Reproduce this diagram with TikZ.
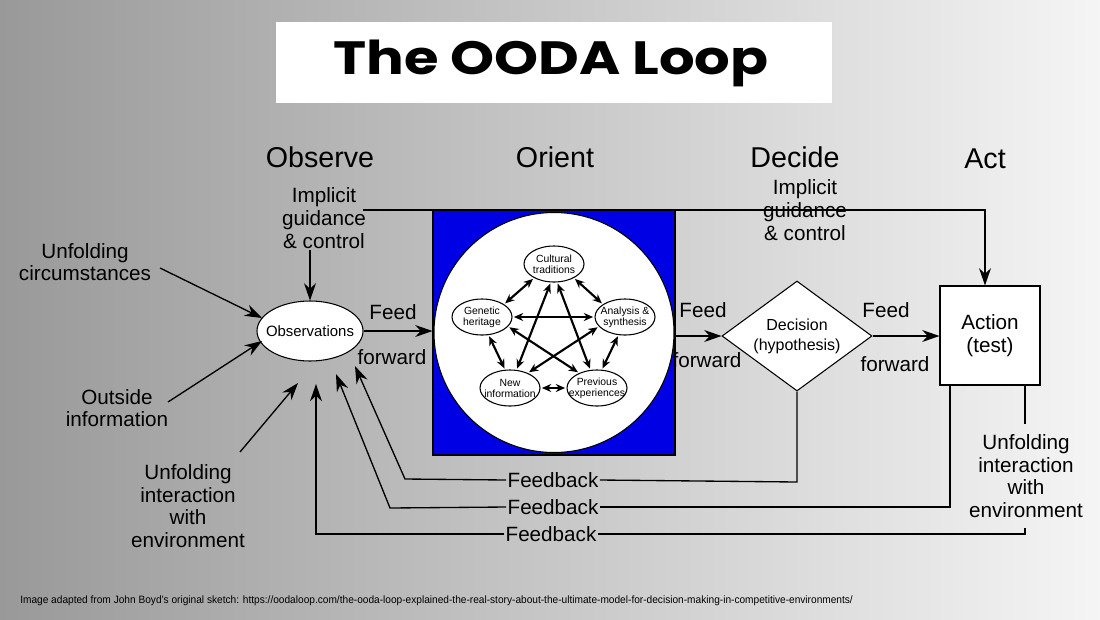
\documentclass[tikz,border=0pt]{standalone}
\usepackage{fontspec}
\setmainfont{Liberation Sans}
\newfontfamily\titlefont{Poppins}
\usetikzlibrary{arrows.meta,shapes.geometric}
\begin{document}
\begin{tikzpicture}[x=0.75pt,y=-0.75pt,
  lbl/.style={font=\fontsize{15.5}{17}\selectfont,align=center,inner sep=1pt},
  hdr/.style={font=\fontsize{21.5}{24}\selectfont},
  arr/.style={line width=1pt,-{Stealth[length=13pt,width=9pt]}},
  ln/.style={line width=1pt},
  inner/.style={ellipse,draw,line width=0.8pt,fill=white,minimum width=60*0.75pt,minimum height=36*0.75pt,inner sep=0pt},
  itxt/.style={align=center,font=\fontsize{7.8}{8.3}\selectfont,inner sep=0pt},
  darr/.style={line width=1.6pt,{Stealth[length=7pt,width=6pt]}-{Stealth[length=7pt,width=6pt]},shorten <=1pt,shorten >=1pt}]
\shade[left color=black!40,right color=black!4] (0,0) rectangle (1100,619);
\useasboundingbox (0,0) rectangle (1100,619);
\node[fill=white,minimum width=556*0.75pt,minimum height=81*0.75pt] (tb) at (554,62) {};
\node[font=\titlefont\fontsize{35}{40}\selectfont\bfseries] (title) at (551,63) {\scalebox{1.2}[1]{The OODA Loop}};
% headers
\node[hdr] (hobs) at (320,157) {Observe};
\node[hdr] (hori) at (555,157) {Orient};
\node[hdr] (hdec) at (795,157) {Decide};
\node[hdr] (hact) at (985,159) {Act};
\node[lbl] (ig1) at (324,218) {Implicit\\guidance\\\& control};
\node[lbl] (ig2) at (805,210) {Implicit\\guidance\\\& control};
% orient box
\node[draw,fill=blue!90!black,line width=0.8pt,minimum width=242*0.75pt,minimum height=245*0.75pt,inner sep=0pt] (blue) at (554,332.5) {};
\node[circle,fill=white,draw,line width=0.8pt,minimum size=240*0.75pt,inner sep=0pt] (circ) at (554,332.5) {};
\node[inner] (cul) at (554,264) {};
\node[inner] (gen) at (482,317) {};
\node[inner] (ana) at (625,317) {};
\node[inner] (new) at (510,388) {};
\node[inner] (pre) at (597,388) {};
\node[itxt] (tcul) at (cul) {Cultural\\traditions};
\node[itxt] (tgen) at (gen) {Genetic\\heritage};
\node[itxt] (tana) at (ana) {Analysis \&\\synthesis};
\node[itxt] (tnew) at (new) {New\\information};
\node[itxt] (tpre) at (pre) {Previous\\experiences};
\draw[darr] (cul.-145) -- (gen.30);
\draw[darr] (cul.-35) -- (ana.150);
\draw[darr] (gen.east) -- (ana.west);
\draw[darr] (gen.-70) -- (new.105);
\draw[darr] (ana.-110) -- (pre.75);
\draw[darr] (new.east) -- (pre.west);
\draw[darr] (cul.-100) -- (new.70);
\draw[darr] (cul.-80) -- (pre.110);
\draw[darr] (gen.-20) -- (pre.140);
\draw[darr] (ana.-160) -- (new.40);
% main nodes
\node[ellipse,draw,fill=white,line width=0.8pt,minimum width=106*0.75pt,minimum height=60*0.75pt,inner sep=0pt] (obs) at (310,331) {};
\node[font=\fontsize{11.2}{14}\selectfont,inner sep=0pt] (tobs) at (obs) {Observations};
\node[diamond,draw,fill=white,line width=0.8pt,minimum width=150*0.75pt,minimum height=110*0.75pt,inner sep=0pt,align=center,font=\fontsize{12}{15}\selectfont,aspect=1.36] (dec) at (797,336) {Decision\\(hypothesis)};
\node[draw,fill=white,line width=0.8pt,minimum width=100*0.75pt,minimum height=99*0.75pt,align=center,font=\fontsize{15.5}{17}\selectfont] (act) at (990,335.5) {Action\\(test)};
% feed forward
\node[lbl] (ff1a) at (393,312) {Feed};
\node[lbl] (ff1b) at (392,357) {forward};
\node[lbl] (ff2a) at (703,310) {Feed};
\node[lbl] (ff2b) at (707,360) {forward};
\node[lbl] (ff3a) at (886,310) {Feed};
\node[lbl] (ff3b) at (895,364) {forward};
\draw[arr] (obs.east) -- (obs.east -| blue.west);
\draw[arr] (675,336) coordinate (bo) -- (dec.west);
\draw[arr] (dec.east) -- (act.west |- dec.east);
% implicit guidance
\coordinate (igs) at (363,210);
\coordinate (igc) at (985,210);
\draw[arr] (igs) -- (igc) -- (igc |- act.north);
\draw[arr] (ig1.south -| obs.north) -- (obs.north);
% left inputs
\node[lbl] (uc) at (85,262) {Unfolding\\circumstances};
\node[lbl] (oi) at (117,408) {Outside\\information};
\node[lbl] (ui) at (188,506) {Unfolding\\interaction\\with\\environment};
\coordinate (oa) at (262,318);
\coordinate (ob) at (262,341);
\coordinate (oc) at (298,383);
\draw[arr] (160,268) -- (oa);
\draw[arr] (168,402) -- (ob);
\draw[arr] (240,452) -- (oc);
% feedback
\node[lbl] (fb1) at (553,480) {Feedback};
\node[lbl] (fb2) at (553,507) {Feedback};
\node[lbl] (fb3) at (551,534) {Feedback};
\node[lbl] (uir) at (1026,476) {Unfolding\\interaction\\with\\environment};
\draw[ln] (dec.south) -- (797,482) -- (fb1.east);
\draw[arr] (fb1.west) -- (405,479) -- (355,366);
\draw[ln] (act.south -| 950,0) -- (950,507) -- (fb2.east);
\draw[arr] (fb2.west) -- (390,508) -- (336,374);
\draw[ln] (act.south -| 1025,0) -- (1025,424) (1025,528) -- (1025,534) -- (fb3.east);
\draw[arr] (fb3.west) -- (316,534) -- (316,384);
% footer
\node[anchor=west,font=\fontsize{8}{9}\selectfont,inner sep=0pt] (foot) at (20,601) {\scalebox{0.95}[1]{Image adapted from John Boyd's original sketch: https://oodaloop.com/the-ooda-loop-explained-the-real-story-about-the-ultimate-model-for-decision-making-in-competitive-environments/}};
\end{tikzpicture}
\end{document}
